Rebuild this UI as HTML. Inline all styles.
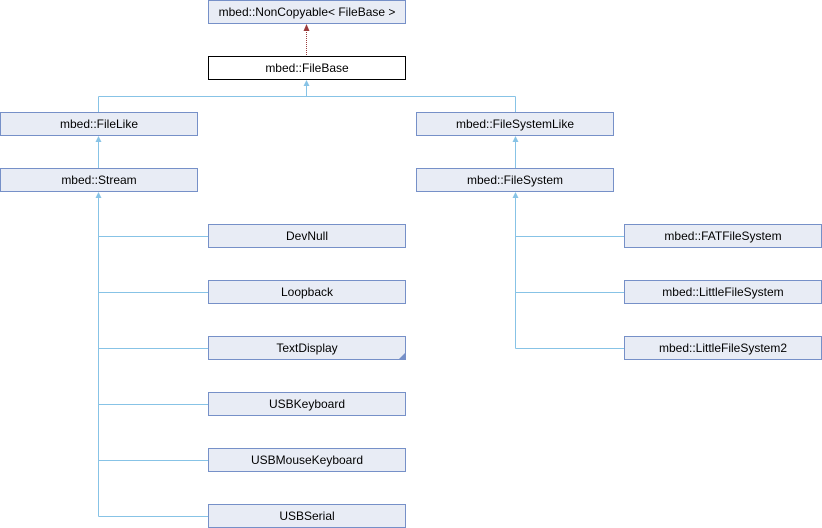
<!DOCTYPE html>
<html><head><meta charset="utf-8"><style>
html,body{margin:0;padding:0;background:#fff;width:822px;height:528px;overflow:hidden}
svg text{font-family:"Liberation Sans",sans-serif;font-size:12px;fill:#000}
</style></head><body>
<svg width="822" height="528" viewBox="0 0 822 528" xmlns="http://www.w3.org/2000/svg" shape-rendering="crispEdges">
<g stroke="#87c3e6" stroke-width="1" fill="none">
<line x1="306.5" y1="84" x2="306.5" y2="96.5"/>
<line x1="98.5" y1="96.5" x2="515.5" y2="96.5"/>
<line x1="98.5" y1="96.5" x2="98.5" y2="112"/>
<line x1="515.5" y1="96.5" x2="515.5" y2="112"/>
<line x1="98.5" y1="140" x2="98.5" y2="168"/>
<line x1="515.5" y1="140" x2="515.5" y2="168"/>
<line x1="98.5" y1="196" x2="98.5" y2="516.5"/>
<line x1="515.5" y1="196" x2="515.5" y2="348.5"/>
<line x1="98.5" y1="236.5" x2="208" y2="236.5"/>
<line x1="98.5" y1="292.5" x2="208" y2="292.5"/>
<line x1="98.5" y1="348.5" x2="208" y2="348.5"/>
<line x1="98.5" y1="404.5" x2="208" y2="404.5"/>
<line x1="98.5" y1="460.5" x2="208" y2="460.5"/>
<line x1="98.5" y1="516.5" x2="208" y2="516.5"/>
<line x1="515.5" y1="236.5" x2="624" y2="236.5"/>
<line x1="515.5" y1="292.5" x2="624" y2="292.5"/>
<line x1="515.5" y1="348.5" x2="624" y2="348.5"/>
</g>
<g fill="#87c3e6" shape-rendering="auto">
<polygon points="306.5,80 303.5,86 309.5,86"/>
<polygon points="98.5,136 95.5,142 101.5,142"/>
<polygon points="515.5,136 512.5,142 518.5,142"/>
<polygon points="98.5,192 95.5,198 101.5,198"/>
<polygon points="515.5,192 512.5,198 518.5,198"/>
</g>
<line x1="306.5" y1="30" x2="306.5" y2="56" stroke="#9a3b3b" stroke-dasharray="1,1"/>
<polygon points="306.5,24 303.5,31 309.5,31" fill="#9a3b3b" shape-rendering="auto"/>
<g stroke="#7690c8" fill="#e8ecf5">
<rect x="208.5" y="0.5" width="197" height="23"/>
<rect x="0.5" y="112.5" width="197" height="23"/>
<rect x="416.5" y="112.5" width="197" height="23"/>
<rect x="0.5" y="168.5" width="197" height="23"/>
<rect x="416.5" y="168.5" width="197" height="23"/>
<rect x="208.5" y="224.5" width="197" height="23"/>
<rect x="208.5" y="280.5" width="197" height="23"/>
<rect x="208.5" y="336.5" width="197" height="23"/>
<rect x="208.5" y="392.5" width="197" height="23"/>
<rect x="208.5" y="448.5" width="197" height="23"/>
<rect x="208.5" y="504.5" width="197" height="23"/>
<rect x="624.5" y="224.5" width="197" height="23"/>
<rect x="624.5" y="280.5" width="197" height="23"/>
<rect x="624.5" y="336.5" width="197" height="23"/>
</g>
<rect x="208.5" y="56.5" width="197" height="23" fill="#fff" stroke="#000"/>
<polygon points="405,353 405,359 399,359" fill="#7690c8" shape-rendering="auto"/>
<g text-anchor="middle">
<text x="307" y="16">mbed::NonCopyable&lt; FileBase &gt;</text>
<text x="307" y="72">mbed::FileBase</text>
<text x="99" y="128">mbed::FileLike</text>
<text x="515" y="128">mbed::FileSystemLike</text>
<text x="99" y="184">mbed::Stream</text>
<text x="515" y="184">mbed::FileSystem</text>
<text x="307" y="240">DevNull</text>
<text x="307" y="296">Loopback</text>
<text x="307" y="352">TextDisplay</text>
<text x="307" y="408">USBKeyboard</text>
<text x="307" y="464">USBMouseKeyboard</text>
<text x="307" y="520">USBSerial</text>
<text x="723" y="240">mbed::FATFileSystem</text>
<text x="723" y="296">mbed::LittleFileSystem</text>
<text x="723" y="352">mbed::LittleFileSystem2</text>
</g>
</svg>
</body></html>
